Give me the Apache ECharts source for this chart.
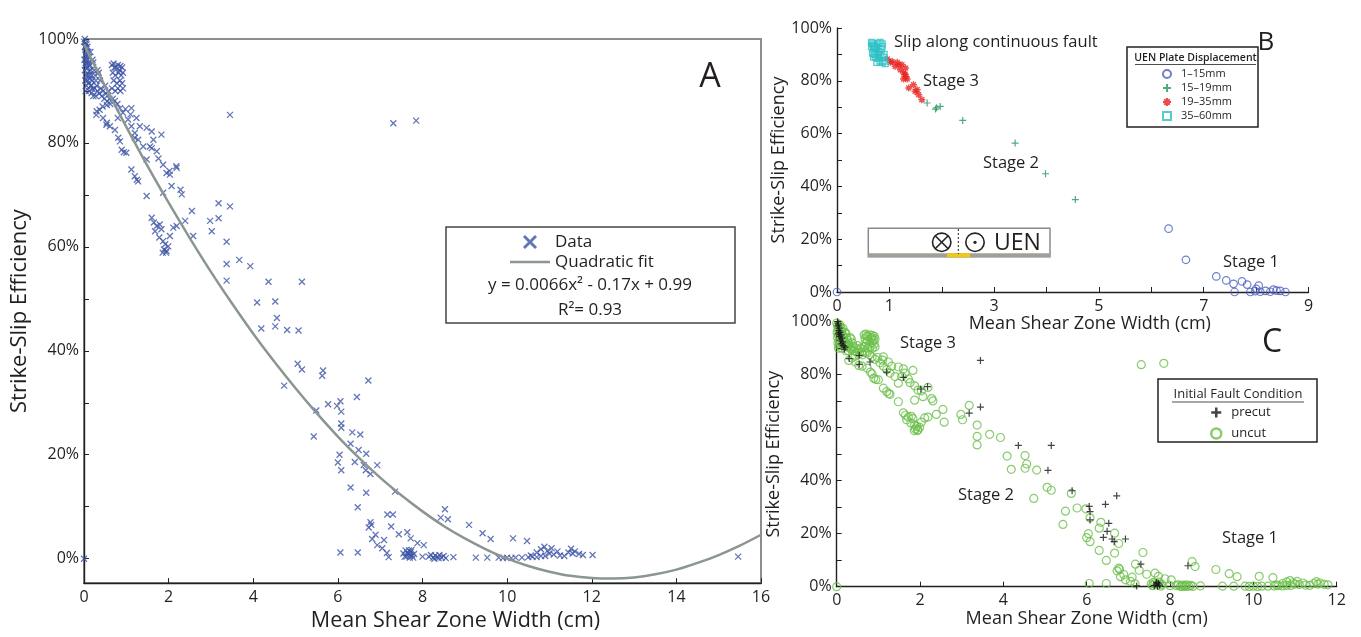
<!DOCTYPE html>
<html>
<head>
<meta charset="utf-8">
<script src="https://cdn.jsdelivr.net/npm/echarts@6/dist/echarts.min.js"></script>
<style>
  html, body { margin: 0; padding: 0; background: #fff; }
  #chart { width: 1361px; height: 637px; }
</style>
</head>
<body>
<div id="chart"></div>
<script>
// ---- Shear-zone measurements (width in cm, strike-slip efficiency in %) ----
// Precut faults
const precut = [
  [0.02,100],[0.04,99.2],[0.03,98.4],[0.06,97.6],[0.05,96.6],[0.08,96],[0.04,95.4],[0.10,95],
  [0.07,94.4],[0.12,93.8],[0.09,93],[0.14,92.4],[0.11,91.6],[0.16,91],[0.20,90.4],[0.18,89.6],
  [0.30,86.1],[0.54,87.3],[0.54,83.9],[0.80,84.8],[1.20,81],[1.60,79],[2.02,74.6],[2.18,75.5],
  [3.18,65.5],[3.45,85.4],[3.45,67.8],[4.36,53.3],[5.15,53.3],[5.07,43.9],[5.65,36.2],
  [6.06,30.3],[6.08,28.3],[6.08,25.2],[6.45,31.1],[6.72,34.3],[6.53,23.9],[6.49,20.9],
  [6.40,18.6],[6.61,18],[6.66,17],[6.93,18],[7.30,8.5],[7.20,0.3],[7.62,0.4],[7.66,1.0],
  [7.70,0.2],[7.72,1.3],[7.75,0.6],[7.68,1.6],[8.43,7.9]
];
// Uncut faults
const uncut = [
  [0.00,99.5],[0.02,98.5],[0.03,97],[0.01,96],[0.04,95],[0.02,94],[0.05,93],[0.03,92],[0.06,91],
  [0.04,90],[0.08,98.5],[0.10,97.5],[0.12,96.5],[0.10,95.5],[0.14,95],[0.16,94],[0.13,93],[0.18,93],
  [0.20,92],[0.17,91],[0.22,95.5],[0.24,94],[0.26,93],[0.28,92],[0.25,90.5],[0.30,91],[0.32,90],
  [0.28,89],[0.35,93.5],[0.38,92],[0.36,89.5],[0.40,90.5],[0.42,89],[0.45,90],[0.48,88.5],[0.50,91],
  [0.52,89.5],[0.55,88],[0.58,90],[0.60,88.5],[0.62,87.5],[0.15,97.5],[0.06,99],[0.20,96],[0.32,94],
  [0.12,90],[0.08,92],[0.22,89],[0.29,85.4],[0.44,87],
  [0.66,95],[0.70,95.3],[0.75,94.5],[0.80,95],[0.86,94.8],[0.90,94.5],[0.68,93.5],[0.74,93],
  [0.82,93.5],[0.88,93],[0.92,93.5],[0.70,92],[0.78,91.5],[0.85,92],[0.90,91.5],[0.66,90.5],
  [0.74,90],[0.80,90.5],[0.86,90],[0.92,90.5],[0.72,94.5],[0.84,94],
  [0.68,88.5],[0.73,88.1],[0.79,87.5],[0.85,86.7],[0.92,85.8],[0.98,86.5],[1.04,84.5],[1.10,85.5],
  [1.12,86.7],[1.12,83.2],[1.20,81.9],[1.24,84.8],[1.28,80.6],[1.32,83.2],[1.40,79.3],[1.48,82.9],
  [1.48,76.8],[1.56,79.3],[1.60,82.2],[1.64,80.6],[1.72,78.4],[1.83,81.6],[1.76,77],[1.87,75.8],
  [1.95,74.2],[2.03,73.9],[2.19,75.2],[2.07,71.7],[1.87,70.4],[2.31,70.1],[2.28,71],
  [0.37,86.4],[0.45,84.8],[0.53,83.5],[0.61,83.2],[0.73,82.5],[0.81,81],[0.85,80.3],[0.89,78.7],
  [0.94,78.2],[1.00,78.1],[1.12,74.9],[1.20,73.6],[1.25,72.9],[1.28,72.6],[1.48,69.8],
  [1.60,65.6],[1.65,64.7],[1.72,64],[1.79,64.3],[1.83,63.4],[1.78,61.8],[1.87,61.1],[1.89,59.5],
  [1.95,59.2],[1.99,60.1],[2.03,62.1],[2.11,63.7],[2.19,64],[1.94,58.9],[1.86,58.9],[1.68,63],[1.92,60.5],
  [2.39,65],[2.55,66.9],[2.58,62.1],[2.98,65],[3.02,63],[3.18,68.4],[3.37,61],[3.37,56.7],[3.37,53.5],
  [3.67,57.5],[3.93,56.3],[4.09,49.3],[4.52,49.5],[4.56,46.3],[4.19,44.3],[4.52,44.7],[4.80,44],
  [5.05,37.5],[5.15,36.4],[4.73,33.3],[5.63,35.2],[5.77,29.7],[5.98,29.4],[5.49,28.5],[6.08,26],
  [5.43,23.5],[6.34,24.3],[6.30,22.1],[6.67,20.2],[6.04,20],[6.00,18.5],[6.08,17],[6.77,16.3],
  [6.30,13.7],[6.67,12.7],[7.35,12.9],[6.47,9.9],[7.17,8.5],[8.53,9.5],[8.60,7.6],[6.77,7],
  [6.79,6.5],[6.73,6],[7.26,6.2],[9.10,6.5],[9.42,4.9],[9.61,3.8],[10.14,3.9],[10.47,3.4],
  [6.89,4.6],[6.81,3.8],[7.09,3.6],[7.44,4.7],[7.64,5.1],[7.72,3.9],[7.88,3],[8.03,2.6],
  [6.93,2.6],[7.05,2],[7.16,1.1],[6.06,1.2],[6.47,1.2],[7.31,83.8],[7.85,84.3],
  [7.55,1.0],[7.58,0.4],[7.60,1.6],[7.64,1.2],[7.70,0.6],[7.74,1.7],[7.78,0.2],[7.80,0.9],[8.00,0.4],
  [8.15,0.4],[8.20,0.7],[8.25,0.2],[8.30,0.6],[8.35,0.3],[8.40,0.7],[8.45,0.2],[8.50,0.5],[8.55,0.1],
  [8.28,0],[8.38,0.1],[8.73,0.3],[9.26,0.2],[9.53,0.2],
  [9.80,0.2],[9.90,0.1],[10.00,0.2],[10.10,0.1],[10.20,0.2],[10.35,0.2],[10.50,0.3],[10.60,0.4],
  [10.70,0.3],[10.80,0.5],[10.56,0.6],[10.70,1.2],[10.80,1.8],[10.88,2.3],[10.95,1.5],[11.00,1.0],
  [11.10,0.8],[11.19,1.4],[11.25,0.6],[11.35,0.5],[11.45,1.2],[11.51,1.9],[11.55,1.0],[11.60,1.4],
  [11.70,0.9],[11.79,0.7],[12.02,0.7],[10.90,0.5],[11.05,2.0],[15.46,0.4],[0,0]
];
// Quadratic fit curve, sampled every half centimetre
const fitX = [0,0.5,1,1.5,2,2.5,3,3.5,4,4.5,5,5.5,6,6.5,7,7.5,8,8.5,9,9.5,10,10.5,11,11.5,12,12.5,13,13.5,14,14.5,15,15.5,16];
const fitY = [99.0,90.9,83.1,75.6,68.5,61.7,55.2,49.1,43.3,37.9,32.8,28.0,23.5,19.4,15.6,12.2,9.1,6.3,3.9,1.8,0.0,-1.4,-2.5,-3.3,-3.7,-3.8,-3.6,-3.0,-2.1,-0.8,0.7,2.5,4.6];

// ---- UEN plate displacement groups ----
const disp1to15 = [
  [0,0],[6.33,24],[6.66,12.2],[7.24,5.9],[7.43,4.4],[7.57,3.1],[7.73,4],[7.83,2.8],[8.05,2.4],
  [7.59,0],[7.89,0],[7.98,0.3],[8.00,1.2],[8.08,0.1],[8.18,0.4],[8.27,0.1],[8.33,0.9],[8.39,0.5],
  [8.46,0.4],[8.56,0]
];
const disp15to19 = [
  [1.72,71.6],[1.88,69.3],[1.97,70.3],[1.90,69.8],[2.40,65],[3.40,56.4],[3.98,44.8],[4.55,35.0]
];
const disp19to35 = [
  [0.96,88.3],[1.02,87],[1.05,87.3],[1.11,85.5],[1.15,87],[1.21,84.2],[1.24,86.1],[1.31,84.8],
  [1.27,83],[1.31,81.7],[1.34,80.7],[1.27,80.7],[1.37,77.3],[1.46,78.5],[1.49,76],[1.53,76.6],
  [1.56,74.7],[1.62,72.8],[1.30,82.5],[1.18,86]
];
const disp35to60 = [
  [0.66,94.5],[0.68,94],[0.70,93.5],[0.72,93],[0.66,93],[0.70,92],[0.74,92.5],[0.78,94],[0.82,94.5],
  [0.86,94],[0.86,93],[0.84,92],[0.80,91],[0.76,90.5],[0.72,90],[0.74,89],[0.78,88.5],[0.82,87.5],
  [0.86,87],[0.90,87.5],[0.88,89],[0.90,90],[0.84,90],[0.80,89.5],[0.68,90.5],[0.70,89],[0.92,86.5],[0.76,87]
];

// ---- Tick values ----
const pctTicks = [0,10,20,30,40,50,60,70,80,90,100];
const pctLabels = [0,20,40,60,80,100];
const widthLabelsB = [0,1,3,5,7,9];

const FONT = '"Open Sans", "Noto Sans", sans-serif';
const INK = '#231f20';
const CROSS = 'path://M0,0L10,10M10,0L0,10';
const PLUS = 'path://M5,0L5,10M0,5L10,5';
const ASTER = 'path://M5,0L5,10M0,5L10,5M1.5,1.5L8.5,8.5M8.5,1.5L1.5,8.5';
const SQUARE = 'path://M0,0L10,0L10,10L0,10Z';
const BAR = 'path://M0,0L40,0L40,2.5L0,2.5Z';

function xAxisFor(grid, min, max, interval, labelValues, nameGap, nameSize, namePad) {
  return {
    type: 'value', gridIndex: grid, min: min, max: max, interval: interval,
    axisLine: { show: true, onZero: false, lineStyle: { color: INK, width: 1.4 } },
    axisTick: { show: true, inside: true, length: 5, lineStyle: { color: INK, width: 1 } },
    axisLabel: Object.assign({ color: INK, fontFamily: FONT, fontSize: 16, margin: 6 },
      labelValues ? { customValues: labelValues } : {}),
    splitLine: { show: false },
    name: 'Mean Shear Zone Width (cm)', nameLocation: 'middle', nameGap: nameGap,
    nameTextStyle: { color: INK, fontFamily: FONT, fontSize: nameSize, padding: namePad || 0 }
  };
}
function yAxisFor(grid, min, nameGap, nameSize) {
  return {
    type: 'value', gridIndex: grid, min: min, max: 100,
    axisLine: { show: true, onZero: false, lineStyle: { color: INK, width: 1.4 } },
    axisTick: { show: true, inside: true, length: 5, lineStyle: { color: INK, width: 1 }, customValues: pctTicks },
    axisLabel: { color: INK, fontFamily: FONT, fontSize: 16, margin: 5, customValues: pctLabels,
      formatter: function (v) { return v + '%'; } },
    splitLine: { show: false },
    name: 'Strike-Slip Efficiency', nameLocation: 'middle', nameGap: nameGap,
    nameTextStyle: { color: INK, fontFamily: FONT, fontSize: nameSize }
  };
}
function text(x, y, str, size, extra) {
  return { type: 'text', x: x, y: y, silent: true, z: 10,
    style: Object.assign({ text: str, fill: INK, fontFamily: FONT, fontSize: size,
      align: 'left', verticalAlign: 'middle' }, extra || {}) };
}
function seg(x1, y1, x2, y2, stroke, width, dash) {
  return { type: 'line', silent: true, z: 10, shape: { x1: x1, y1: y1, x2: x2, y2: y2 },
    style: { stroke: stroke, lineWidth: width, lineDash: dash || null } };
}
function frame(x, y, w, h, stroke, width) {
  return { type: 'rect', silent: true, z: 10, shape: { x: x, y: y, width: w, height: h },
    style: { fill: 'none', stroke: stroke, lineWidth: width } };
}

const chart = echarts.init(document.getElementById('chart'));
chart.setOption({
  animation: false,
  backgroundColor: '#fff',
  grid: [
    { left: 84, top: 39, width: 677, height: 546, show: true, borderColor: '#8d8d8d', borderWidth: 2, backgroundColor: 'transparent' },
    { left: 837, top: 28, width: 471.5, height: 264 },
    { left: 836.7, top: 321.7, width: 500, height: 265 }
  ],
  xAxis: [
    xAxisFor(0, 0, 16, 2, null, 21, 21.5, [0, 0, 0, 66]),
    xAxisFor(1, 0, 9, 1, widthLabelsB, 10, 18, [0, 0, 0, 34]),
    xAxisFor(2, 0, 12, 2, null, 20, 18)
  ],
  yAxis: [
    yAxisFor(0, -4.7, 53, 22),
    yAxisFor(1, 0, 47, 18),
    yAxisFor(2, 0, 54, 18)
  ],
  legend: [
    { data: [{ name: 'Data', itemStyle: { borderWidth: 3 } },
             { name: 'Quadratic fit', icon: BAR, itemStyle: { color: '#8b9690', borderWidth: 0 }, lineStyle: { width: 0 } }],
      left: 505, top: 227, orient: 'vertical', itemWidth: 40, itemHeight: 12, itemGap: 0,
      selectedMode: false, textStyle: { color: INK, fontFamily: FONT, fontSize: 17, lineHeight: 20 } },
    { data: ['1–15mm', '15–19mm', '19–35mm', { name: '35–60mm', icon: SQUARE }],
      left: 1157, top: 63.5, orient: 'vertical', itemWidth: 18, itemHeight: 8, itemGap: 3,
      selectedMode: false, textStyle: { color: INK, fontFamily: FONT, fontSize: 11, lineHeight: 11 } },
    { data: [{ name: 'precut', itemStyle: { borderWidth: 2.5 } }, { name: 'uncut', itemStyle: { borderWidth: 2.5 } }],
      left: 1205, top: 401, orient: 'vertical', itemWidth: 20, itemHeight: 10, itemGap: 8,
      selectedMode: false, textStyle: { color: INK, fontFamily: FONT, fontSize: 13 } }
  ],
  series: [
    { name: 'Data', type: 'scatter', xAxisIndex: 0, yAxisIndex: 0,
      data: precut.concat(uncut), symbol: CROSS, symbolSize: 6,
      itemStyle: { color: 'transparent', borderColor: '#3c54a5', borderWidth: 1.3 } },
    { name: 'Quadratic fit', type: 'line', xAxisIndex: 0, yAxisIndex: 0, z: 3,
      data: fitX.map(function (x, i) { return [x, fitY[i]]; }), smooth: 0.3, symbol: 'none', showSymbol: false,
      itemStyle: { color: '#8b9690' }, lineStyle: { color: '#8b9690', width: 2.5 } },

    { name: '1–15mm', type: 'scatter', xAxisIndex: 1, yAxisIndex: 1, data: disp1to15,
      symbol: 'circle', symbolSize: 7.5,
      itemStyle: { color: 'transparent', borderColor: '#4a5fc0', borderWidth: 1.2 } },
    { name: '15–19mm', type: 'scatter', xAxisIndex: 1, yAxisIndex: 1, data: disp15to19,
      symbol: PLUS, symbolSize: 7,
      itemStyle: { color: 'transparent', borderColor: '#23965a', borderWidth: 1.2 } },
    { name: '19–35mm', type: 'scatter', xAxisIndex: 1, yAxisIndex: 1, data: disp19to35,
      symbol: ASTER, symbolSize: 7,
      itemStyle: { color: 'transparent', borderColor: '#e6221f', borderWidth: 1.4 } },
    { name: '35–60mm', type: 'scatter', xAxisIndex: 1, yAxisIndex: 1, data: disp35to60,
      symbol: SQUARE, symbolSize: 6,
      itemStyle: { color: 'transparent', borderColor: '#2bc0c4', borderWidth: 1.3 } },

    { name: 'uncut', type: 'scatter', xAxisIndex: 2, yAxisIndex: 2, data: uncut,
      symbol: 'circle', symbolSize: 8,
      itemStyle: { color: 'transparent', borderColor: '#6cbf4a', borderWidth: 1.2 } },
    { name: 'precut', type: 'scatter', xAxisIndex: 2, yAxisIndex: 2, data: precut, z: 3,
      symbol: PLUS, symbolSize: 7,
      itemStyle: { color: 'transparent', borderColor: '#151515', borderWidth: 1.2 } }
  ],
  graphic: [
    // Panel A annotations
    frame(446, 227, 289, 96, '#444', 1.5),
    text(590, 285, 'y = 0.0066x² - 0.17x + 0.99', 17, { align: 'center' }),
    text(590, 310, 'R²= 0.93', 17, { align: 'center' }),
    text(710, 77, 'A', 34, { align: 'center' }),

    // Panel B annotations
    text(1266, 43, 'B', 26, { align: 'center' }),
    text(894, 42, 'Slip along continuous fault', 16.5),
    text(923, 81, 'Stage 3', 16.5),
    text(983, 163, 'Stage 2', 16.5),
    text(1223, 262, 'Stage 1', 16.5),
    frame(1127, 47, 131, 80, '#222', 1.5),
    text(1195.5, 58, 'UEN Plate Displacement', 10.5, { align: 'center', fontWeight: 600 }),
    seg(1135, 64.5, 1256, 64.5, '#222', 0.8),

    // Plate sketch: sense of motion across the fault
    frame(868.3, 228.3, 181.7, 28.4, '#8a8a8a', 1.5),
    seg(868.3, 255.3, 1050, 255.3, '#a19f97', 4),
    seg(947, 255.3, 970, 255.3, '#f2c811', 4),
    seg(958.3, 229, 958.3, 254, '#222', 1, [2, 2]),
    { type: 'circle', silent: true, z: 10, shape: { cx: 941.7, cy: 242.3, r: 9.2 }, style: { fill: 'none', stroke: '#222', lineWidth: 1.6 } },
    seg(935.2, 235.8, 948.2, 248.8, '#222', 1.6),
    seg(948.2, 235.8, 935.2, 248.8, '#222', 1.6),
    { type: 'circle', silent: true, z: 10, shape: { cx: 975, cy: 242.3, r: 9.2 }, style: { fill: 'none', stroke: '#222', lineWidth: 1.6 } },
    { type: 'circle', silent: true, z: 10, shape: { cx: 975, cy: 242.3, r: 1.6 }, style: { fill: '#222' } },
    text(994, 243, 'UEN', 23),

    // Panel C annotations
    text(1272, 343, 'C', 32, { align: 'center' }),
    text(900, 343, 'Stage 3', 16.5),
    text(958, 495, 'Stage 2', 16.5),
    text(1222, 538, 'Stage 1', 16.5),
    frame(1158, 379, 159, 63, '#222', 1.5),
    text(1238, 394.5, 'Initial Fault Condition', 13, { align: 'center' }),
    seg(1172, 402, 1304, 402, '#222', 0.8)
  ]
});
</script>
</body>
</html>
